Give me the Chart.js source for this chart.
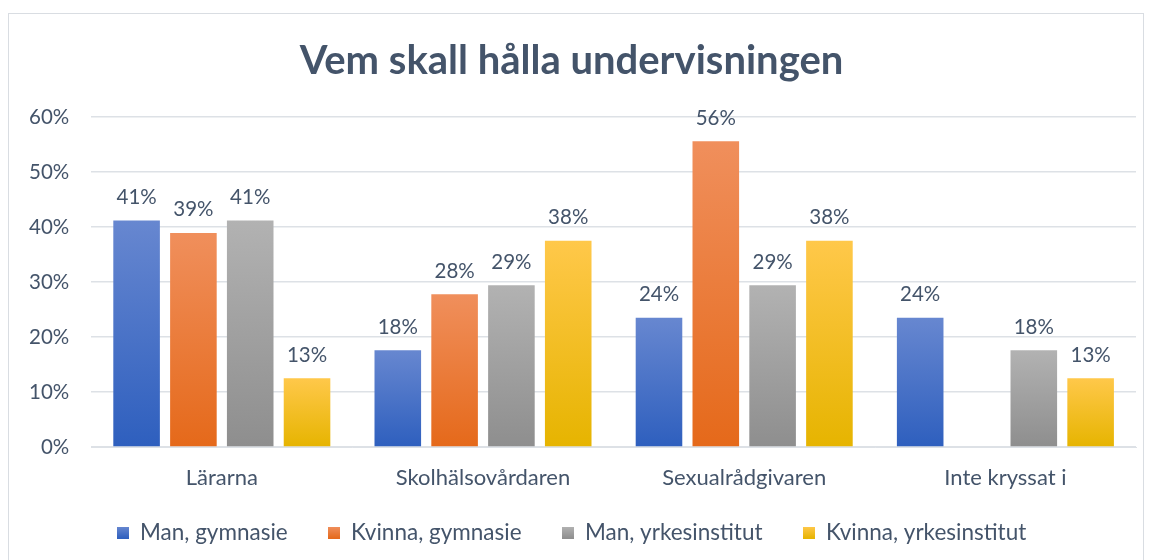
<!DOCTYPE html>
<html>
<head>
<meta charset="utf-8">
<script src="https://cdn.jsdelivr.net/npm/chart.js@4.4.1/dist/chart.umd.min.js"></script>
<style>
  html, body { margin: 0; padding: 0; background: #fff; }
  #wrap { width: 1152px; height: 560px; }
</style>
</head>
<body>
<div id="wrap"><canvas id="c" width="1152" height="560"></canvas></div>
<script>
const titel = "Vem skall hålla undervisningen";
const kategorier = ["Lärarna", "Skolhälsovårdaren", "Sexualrådgivaren", "Inte kryssat i"];
const serier = ["Man, gymnasie", "Kvinna, gymnasie", "Man, yrkesinstitut", "Kvinna, yrkesinstitut"];
const manGymnasie = [41.2, 17.6, 23.5, 23.5];
const kvinnaGymnasie = [38.9, 27.8, 55.6, 0];
const manYrke = [41.2, 29.4, 29.4, 17.6];
const kvinnaYrke = [12.5, 37.5, 37.5, 12.5];
const yTicks = [0, 10, 20, 30, 40, 50, 60];

const textFarg = "#44546a";
const gridFarg = "#dde1e6";
// [topp, botten] per serie
const farger = [
    ["#6787d0", "#2e5fbe"],
    ["#f08f5c", "#e5691a"],
    ["#b2b2b2", "#8e8e8e"],
    ["#ffc84a", "#e6b400"]
];

function gradient(ctx, i) {
    const chart = ctx.chart;
    if (!chart.chartArea || ctx.type !== "data") return farger[i][1];
    const y = chart.scales.y;
    const top = y.getPixelForValue(ctx.raw);
    const bot = y.getPixelForValue(0);
    if (!isFinite(top) || bot - top < 1) return farger[i][1];
    const g = chart.ctx.createLinearGradient(0, top, 0, bot);
    g.addColorStop(0, farger[i][0]);
    g.addColorStop(1, farger[i][1]);
    return g;
}

// legend-rutor med samma gradient
function legendRuta(i) {
    const cv = document.createElement("canvas");
    cv.width = 12; cv.height = 12;
    const c = cv.getContext("2d");
    const g = c.createLinearGradient(0, 0, 0, 12);
    g.addColorStop(0, farger[i][0]);
    g.addColorStop(1, farger[i][1]);
    c.fillStyle = g;
    c.fillRect(0, 0, 12, 12);
    return cv;
}

const ram = {
    id: "ram",
    beforeDraw(chart) {
        const c = chart.ctx;
        c.save();
        c.fillStyle = "#fff";
        c.fillRect(0, 0, chart.width, chart.height);
        c.strokeStyle = "#d9dde2";
        c.lineWidth = 1;
        c.strokeRect(8.5, 13.5, 1135, 600);
        c.restore();
    }
};

const etiketter = {
    id: "etiketter",
    afterDatasetsDraw(chart) {
        const c = chart.ctx;
        c.save();
        c.font = "20.5px Lato";
        c.fillStyle = textFarg;
        c.textAlign = "center";
        c.textBaseline = "bottom";
        chart.data.datasets.forEach((ds, di) => {
            chart.getDatasetMeta(di).data.forEach((bar, j) => {
                const v = ds.data[j];
                if (!v) return;
                c.fillText(Math.round(v) + "%", bar.x, bar.y - 13);
            });
        });
        c.restore();
    }
};

const dataSerier = [manGymnasie, kvinnaGymnasie, manYrke, kvinnaYrke];

new Chart(document.getElementById("c"), {
    type: "bar",
    data: {
        labels: kategorier,
        datasets: serier.map((namn, i) => ({
            label: namn,
            data: dataSerier[i],
            backgroundColor: ctx => gradient(ctx, i),
            borderWidth: 0,
            categoryPercentage: 0.87,
            barPercentage: 0.82
        }))
    },
    options: {
        responsive: false,
        animation: false,
        layout: { padding: { left: 7, right: 16, top: 0, bottom: 6 } },
        plugins: {
            title: {
                display: true,
                text: titel,
                color: textFarg,
                font: { family: "Lato", size: 40, weight: "bold" },
                padding: { top: 37, bottom: 32 }
            },
            legend: {
                position: "bottom",
                labels: {
                    color: textFarg,
                    font: { family: "Lato", size: 22.5 },
                    usePointStyle: true,
                    boxWidth: 12,
                    boxHeight: 12,
                    padding: 12,
                    generateLabels: chart => serier.map((namn, i) => ({
                        text: i < serier.length - 1 ? namn + "\u2003\u2002" : namn,
                        pointStyle: legendRuta(i),
                        fillStyle: farger[i][1],
                        strokeStyle: "transparent",
                        lineWidth: 0,
                        datasetIndex: i,
                        fontColor: textFarg
                    }))
                }
            },
            tooltip: { enabled: false }
        },
        scales: {
            x: {
                grid: { display: false, drawTicks: false },
                border: { color: gridFarg, width: 1 },
                ticks: { color: textFarg, font: { family: "Lato", size: 22 }, padding: 18 }
            },
            y: {
                min: 0,
                max: 60,
                afterBuildTicks: axis => { axis.ticks = yTicks.map(v => ({ value: v })); },
                grid: { color: gridFarg, lineWidth: 1.5, drawTicks: false },
                border: { display: false },
                ticks: {
                    color: textFarg,
                    font: { family: "Lato", size: 20.5 },
                    padding: 22,
                    callback: v => v + "%"
                }
            }
        }
    },
    plugins: [ram, etiketter]
});
</script>
</body>
</html>
